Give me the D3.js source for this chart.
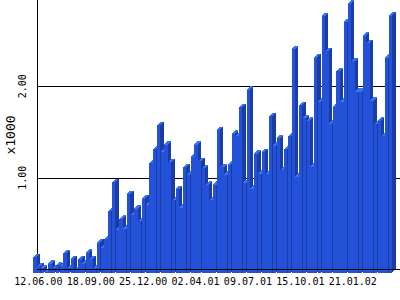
<!DOCTYPE html>
<html>
<head>
<meta charset="utf-8">
<script src="https://cdn.jsdelivr.net/npm/d3@7"></script>
<style>
  html, body { margin: 0; padding: 0; background: #fff; }
  svg { display: block; }
  text { font-family: "DejaVu Sans Mono", monospace; fill: #000; }
</style>
</head>
<body>
<div id="chart"></div>
<script>
// weekly values, in thousands, starting 12.06.00
const values = [
  0.17, 0.07, 0.05, 0.01, 0.10, 0.05, 0.08, 0.07, 0.21, 0.05,
  0.15, 0.03, 0.15, 0.10, 0.22, 0.15, 0.05, 0.33, 0.27, 0.37,
  0.67, 0.99, 0.47, 0.59, 0.48, 0.86, 0.63, 0.70, 0.56, 0.81,
  0.74, 1.20, 1.35, 1.61, 1.32, 1.40, 1.21, 0.79, 0.91, 0.71,
  1.15, 1.07, 1.26, 1.40, 1.22, 1.14, 0.96, 0.79, 0.96, 1.56,
  1.15, 1.07, 1.18, 1.52, 1.49, 1.81, 0.98, 2.00, 0.92, 1.30,
  1.08, 1.32, 1.08, 1.71, 1.39, 1.47, 1.12, 1.35, 1.49, 2.44,
  1.05, 1.83, 1.69, 1.66, 1.16, 2.35, 1.87, 2.80, 2.42, 1.63,
  1.81, 2.20, 1.87, 2.74, 2.94, 2.31, 1.98, 1.98, 2.59, 2.51,
  1.88, 1.62, 1.66, 1.49, 2.35, 2.81
];
const tickWeeks = [0, 14, 28, 42, 56, 70, 84];
const tickLabels = ['12.06.00', '18.09.00', '25.12.00', '02.04.01', '09.07.01', '15.10.01', '21.01.02'];
const yTicks = [1, 2];
const yTickLabels = ['1.00', '2.00'];

const W = 400, H = 300;
const depth = 3.4; // 3d offset
const colors = { front: '#2352d9', side: '#1b3ba5', top: '#3574f7' };

const svg = d3.select('#chart').append('svg')
  .attr('width', W).attr('height', H)
  .attr('shape-rendering', 'crispEdges');

const x = d3.scaleBand()
  .domain(d3.range(values.length))
  .range([33.3, 33.3 + values.length * 3.743])
  .padding(0);
const bw = x.bandwidth() * 0.88;

// front plane scale; back plane is shifted by depth
const y = d3.scaleLinear().domain([0, 2.943]).range([272.7, depth]);
const left = x(0) + depth;

// gridlines (back plane)
svg.selectAll('.grid')
  .data(yTicks)
  .join('line')
  .attr('x1', left).attr('x2', W)
  .attr('y1', d => Math.round(y(d) - depth) + 0.5)
  .attr('y2', d => Math.round(y(d) - depth) + 0.5)
  .attr('stroke', '#000');

// y axis line
svg.append('line')
  .attr('x1', Math.round(left) + 0.5).attr('x2', Math.round(left) + 0.5)
  .attr('y1', 0).attr('y2', y(0) - depth)
  .attr('stroke', '#000');

// bars, left to right
const bars = svg.selectAll('.bar')
  .data(values)
  .join('g')
  .attr('class', 'bar');

bars.append('rect')
  .attr('x', (d, i) => x(i))
  .attr('y', d => y(d))
  .attr('width', bw)
  .attr('height', d => y(0) - y(d))
  .attr('fill', colors.front);

bars.append('path')
  .attr('fill', colors.side)
  .attr('d', (d, i) => {
    const x1 = x(i) + bw;
    return `M${x1},${y(d)}L${x1 + depth},${y(d) - depth}L${x1 + depth},${y(0) - depth}L${x1},${y(0)}Z`;
  });

bars.append('path')
  .attr('fill', colors.top)
  .attr('d', (d, i) => {
    const x0 = x(i), yt = y(d);
    return `M${x0},${yt}L${x0 + depth},${yt - depth}L${x0 + bw + depth},${yt - depth}L${x0 + bw},${yt}Z`;
  });

// x axis line drawn over the bars
svg.append('line')
  .attr('x1', left).attr('x2', W)
  .attr('y1', Math.round(y(0) - depth) + 0.5)
  .attr('y2', Math.round(y(0) - depth) + 0.5)
  .attr('stroke', '#000');

// x labels
svg.selectAll('.xlab')
  .data(tickWeeks)
  .join('text')
  .attr('x', d => x(d) + bw / 2 + depth)
  .attr('y', 285)
  .attr('text-anchor', 'middle')
  .style('font-size', '10px')
  .text((d, i) => tickLabels[i]);

// y labels, rotated
svg.selectAll('.ylab')
  .data(yTicks)
  .join('text')
  .attr('transform', d => `translate(25.5,${y(d) - depth}) rotate(-90)`)
  .attr('text-anchor', 'middle')
  .style('font-size', '10px')
  .text((d, i) => yTickLabels[i]);

svg.append('text')
  .attr('transform', `translate(14.5,135) rotate(-90)`)
  .attr('text-anchor', 'middle')
  .style('font-size', '13px')
  .text('x1000');
</script>
</body>
</html>
